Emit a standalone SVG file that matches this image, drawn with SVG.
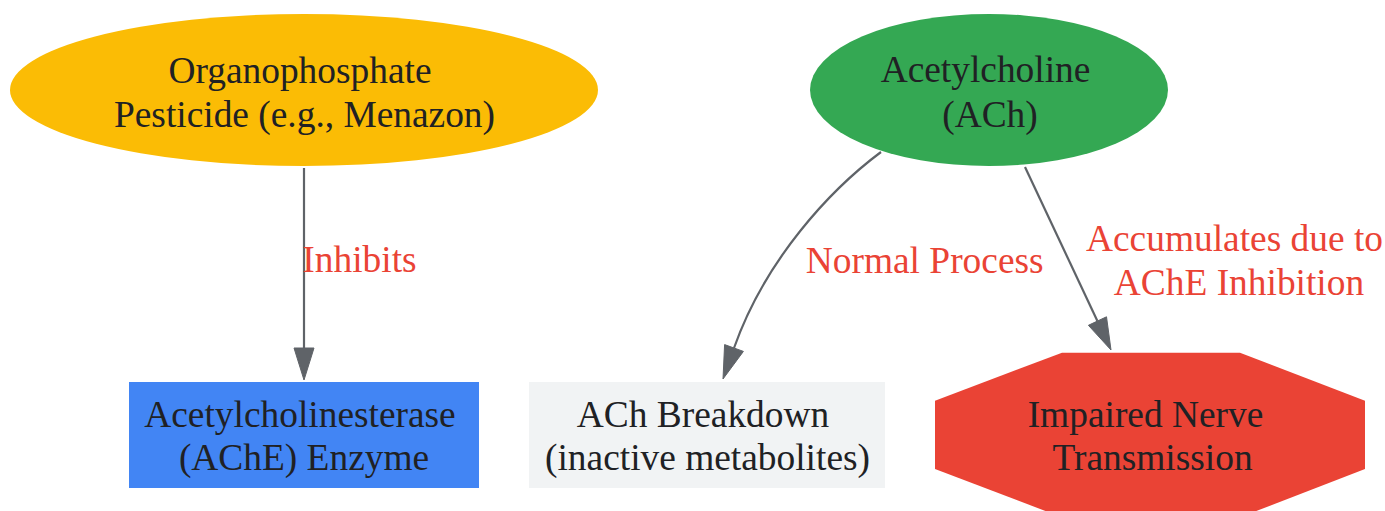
<svg xmlns="http://www.w3.org/2000/svg" width="1385" height="511" viewBox="0 0 1385 511">
<style>
.t{font-family:"Liberation Serif","Times New Roman",serif;font-size:37.4px;fill:#202124;text-anchor:middle}
.l{font-family:"Liberation Serif","Times New Roman",serif;font-size:37.4px;fill:#EA4335;text-anchor:middle}
.e{fill:none;stroke:#5F6368;stroke-width:2.2}
.a{fill:#5F6368;stroke:#5F6368;stroke-width:1}
</style>
<rect width="1385" height="511" fill="#FFFFFF"/>
<g id="pesticide">
<ellipse cx="304" cy="90" rx="294" ry="76" fill="#FBBC05"/>
<text class="t" x="300" y="82.5">Organophosphate</text>
<text class="t" x="304.5" y="126.5">Pesticide (e.g., Menazon)</text>
</g>
<g id="ach">
<ellipse cx="989" cy="90" rx="179" ry="76" fill="#34A853"/>
<text class="t" x="985.5" y="82">Acetylcholine</text>
<text class="t" x="990" y="126.5">(ACh)</text>
</g>
<g id="ache">
<rect x="129" y="382" width="350" height="106" fill="#4285F4"/>
<text class="t" x="300" y="426.5">Acetylcholinesterase</text>
<text class="t" x="304" y="470">(AChE) Enzyme</text>
</g>
<g id="breakdown">
<rect x="529" y="382" width="356" height="106" fill="#F1F3F4"/>
<text class="t" x="703" y="426.5">ACh Breakdown</text>
<text class="t" x="707.5" y="470">(inactive metabolites)</text>
</g>
<g id="impaired">
<polygon points="1062,352.7 1240,352.7 1365,400.7 1365,469 1240,517.3 1062,517.3 935,469 935,400.7" fill="#EA4335"/>
<text class="t" x="1145.5" y="426.5">Impaired Nerve</text>
<text class="t" x="1152.5" y="470">Transmission</text>
</g>
<g id="connectors">
<path class="e" d="M304,168 L304,348"/>
<polygon class="a" points="294,348 314,348 304,380"/>
<text class="l" x="359.5" y="272">Inhibits</text>
<path class="e" d="M881,152 C830,190 765,260 734,348"/>
<polygon class="a" points="743.4,351.4 724.6,344.6 723,379"/>
<text class="l" x="924.7" y="272.5">Normal Process</text>
<path class="e" d="M1025,167 L1097.4,321"/>
<polygon class="a" points="1106.5,316.8 1088.4,325.3 1111,350"/>
<text class="l" x="1234.5" y="251">Accumulates due to</text>
<text class="l" x="1239" y="295">AChE Inhibition</text>
</g>
</svg>
